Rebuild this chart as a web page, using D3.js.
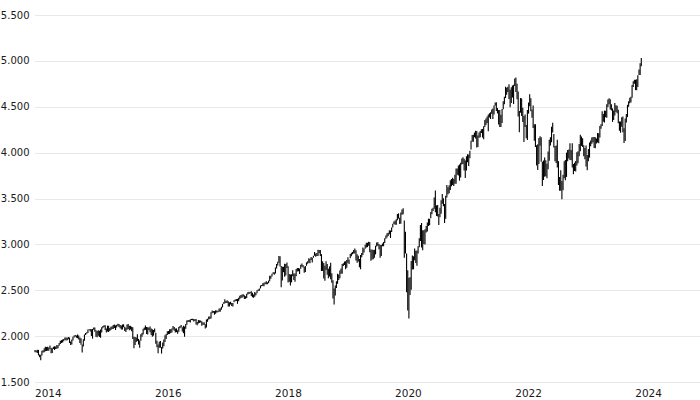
<!DOCTYPE html>
<html><head><meta charset="utf-8">
<script src="https://cdn.jsdelivr.net/npm/d3@7/dist/d3.min.js"></script>
<style>html,body{margin:0;padding:0;background:#fff;}svg{display:block;}</style>
</head><body>
<svg id="chart" width="700" height="400"></svg>
<script>
// Weekly low / high values (week ending Friday), first week ends 2014-01-03
const firstWeek = "2014-01-03";
const low2014 = [1823,1823,1815,1790,1770,1738,1790,1822,1825,1834,1839,1840,1840,1860,1814,1815,1859,1850,1859,1862,1868,1896,1915,1925,1931,1944,1957,1952,1955,1965,1925,1904,1909,1953,1986,1995,1983,1978,1962,1926,1906,1821,1887,1950,2011,2027,2034,2064,2050,2002,1973,2069];
const high2014 = [1850,1844,1851,1850,1800,1798,1840,1847,1867,1883,1882,1883,1875,1897,1873,1869,1885,1891,1888,1902,1901,1925,1950,1956,1964,1968,1986,1985,1983,1991,1985,1942,1964,1994,2006,2011,2008,2019,2007,1985,1977,1910,1966,2018,2034,2041,2071,2075,2079,2076,2078,2094];
const low2015 = [2047,1993,1988,2004,1990,1981,2040,2085,2100,2067,2039,2050,2046,2057,2067,2077,2079,2088,2067,2093,2114,2100,2085,2073,2072,2097,2056,2044,2069,2077,2063,2072,2052,1970,1867,1903,1937,1946,1908,1872,1950,1993,2017,2064,2069,2022,2019,2067,2042,2012,1993,2005];
const high2015 = [2093,2064,2056,2064,2058,2072,2097,2110,2119,2118,2083,2114,2114,2089,2103,2108,2120,2126,2117,2123,2134,2132,2121,2115,2126,2129,2103,2092,2128,2132,2114,2112,2102,2096,1994,1990,1986,2021,1970,1952,2020,2034,2080,2094,2116,2100,2097,2095,2104,2082,2076,2067];
const low2016 = [2043,1918,1878,1812,1872,1872,1810,1865,1891,1937,1969,2012,2022,2022,2033,2039,2073,2059,2039,2043,2025,2048,2085,2093,2050,2030,1992,2080,2125,2153,2155,2148,2175,2174,2160,2165,2127,2119,2138,2145,2149,2114,2124,2120,2084,2094,2156,2180,2187,2191,2248,2254,2233];
const high2016 = [2082,2038,1950,1910,1940,1947,1881,1930,1962,2009,2023,2052,2056,2075,2075,2084,2111,2099,2084,2084,2065,2100,2110,2120,2096,2113,2105,2132,2169,2176,2177,2183,2188,2189,2187,2184,2187,2153,2175,2172,2169,2162,2148,2152,2130,2182,2189,2214,2214,2260,2278,2273,2273];
const low2017 = [2245,2258,2259,2266,2267,2288,2313,2352,2356,2360,2361,2322,2322,2344,2327,2323,2370,2379,2384,2352,2380,2403,2415,2419,2428,2405,2407,2416,2455,2459,2466,2437,2425,2417,2428,2446,2467,2493,2495,2520,2543,2547,2544,2566,2566,2565,2577,2598,2624,2651,2676,2668];
const high2017 = [2282,2279,2276,2301,2300,2319,2352,2370,2401,2384,2390,2379,2370,2375,2362,2362,2392,2400,2404,2406,2418,2440,2447,2453,2456,2445,2435,2463,2477,2484,2480,2490,2474,2454,2480,2474,2501,2509,2520,2552,2557,2576,2582,2588,2597,2588,2605,2658,2658,2680,2695,2695];
const low2018 = [2683,2737,2769,2800,2760,2533,2607,2697,2647,2660,2742,2585,2594,2553,2586,2652,2612,2594,2652,2703,2707,2676,2734,2755,2749,2691,2698,2767,2789,2799,2795,2829,2802,2853,2876,2864,2872,2874,2903,2874,2710,2710,2628,2603,2722,2670,2631,2649,2621,2583,2409,2346];
const high2018 = [2748,2787,2811,2873,2871,2763,2755,2756,2790,2787,2802,2761,2676,2672,2674,2718,2683,2682,2732,2742,2742,2736,2779,2791,2774,2757,2764,2804,2816,2848,2842,2863,2855,2877,2916,2900,2906,2941,2940,2939,2894,2817,2797,2766,2816,2785,2735,2760,2800,2685,2609,2520];
const low2019 = [2443,2524,2570,2612,2631,2681,2680,2765,2775,2728,2744,2800,2785,2848,2870,2892,2900,2900,2825,2800,2812,2750,2728,2860,2883,2911,2952,2966,2970,2985,2914,2822,2836,2839,2853,2891,2976,2985,2946,2855,2874,2979,2980,3014,3061,3076,3092,3110,3070,3136,3183,3221];
const high2019 = [2553,2598,2681,2672,2716,2738,2785,2795,2813,2816,2830,2860,2836,2894,2910,2918,2940,2955,2937,2892,2876,2840,2885,2905,2965,2955,2995,3018,3018,3028,3027,2943,2943,2939,2941,2985,3021,3022,3003,2993,2993,3009,3027,3067,3098,3121,3128,3155,3151,3183,3226,3248];
const low2020 = [3213,3214,3262,3281,3221,3224,3324,3328,2855,2900,2478,2280,2191,2447,2506,2725,2728,2826,2798,2766,2900,2969,3038,2965,2936,3003,3000,3129,3141,3200,3209,3284,3328,3364,3387,3350,3310,3305,3210,3297,3335,3444,3415,3233,3280,3511,3545,3557,3594,3633,3647,3636];
const high2020 = [3259,3275,3330,3338,3289,3347,3381,3394,3260,3137,2900,2718,2637,2641,2819,2880,2870,2954,2930,2934,2980,3068,3211,3232,3155,3155,3166,3200,3238,3280,3280,3352,3387,3399,3510,3588,3425,3428,3330,3398,3482,3550,3502,3440,3529,3646,3623,3645,3700,3712,3726,3712];
const low2021 = [3660,3662,3760,3750,3694,3730,3870,3875,3805,3723,3805,3895,3853,3939,4035,4118,4118,4168,4155,4057,4061,4163,4167,4214,4165,4145,4279,4300,4323,4234,4383,4366,4423,4367,4415,4510,4454,4427,4306,4278,4279,4322,4473,4527,4595,4630,4660,4585,4495,4540,4600,4531,4725];
const high2021 = [3760,3826,3826,3861,3871,3890,3937,3950,3932,3915,3960,3983,3979,4021,4130,4192,4195,4219,4238,4236,4188,4219,4235,4255,4258,4287,4356,4372,4393,4415,4430,4440,4470,4480,4513,4546,4548,4486,4465,4465,4413,4475,4560,4610,4718,4708,4717,4744,4685,4713,4732,4740,4808];
const low2022 = [4662,4582,4395,4222,4435,4398,4335,4115,4279,4157,4138,4425,4506,4450,4381,4268,4129,4062,3859,3810,3875,4074,3900,3636,3702,3738,3743,3721,3818,3911,4079,4112,4218,4057,3906,3886,3837,3647,3585,3585,3491,3590,3720,3700,3735,3906,3936,3920,3918,3839,3765,3800];
const high2022 = [4819,4750,4667,4453,4595,4590,4490,4400,4416,4300,4465,4546,4637,4593,4471,4513,4308,4308,4081,4091,4159,4178,4168,3900,3914,3946,3918,3880,4013,4140,4167,4281,4325,4204,4073,4077,4140,3907,3734,3807,3690,3760,3905,3920,4000,4028,4034,4101,4028,4101,3875,3890];
const low2023 = [3795,3859,3885,3960,4015,4073,4060,3960,3928,3850,3808,3905,3946,4069,4097,4114,4050,4048,4099,4110,4103,4166,4260,4290,4336,4328,4385,4380,4497,4526,4470,4460,4335,4356,4405,4442,4430,4320,4238,4216,4283,4223,4104,4128,4329,4387,4501,4537,4546,4599,4716,4751];
const high2023 = [3909,4004,4015,4095,4195,4176,4156,4080,4050,4078,3975,4040,4110,4133,4164,4170,4170,4167,4154,4213,4212,4290,4310,4450,4420,4458,4456,4528,4578,4594,4583,4528,4482,4460,4541,4516,4511,4466,4338,4340,4386,4393,4266,4373,4421,4521,4560,4598,4610,4738,4779,4793];
const low2024 = [4682,4681,4714,4845,4845,4942];
const high2024 = [4794,4799,4842,4907,4975,5030];

const yTicks = [1500,2000,2500,3000,3500,4000,4500,5000,5500];
const xTickYears = [2014,2016,2018,2020,2022,2024];

const lows = [].concat(low2014,low2015,low2016,low2017,low2018,low2019,low2020,low2021,low2022,low2023,low2024);
const highs = [].concat(high2014,high2015,high2016,high2017,high2018,high2019,high2020,high2021,high2022,high2023,high2024);
const start = d3.timeParse("%Y-%m-%d")(firstWeek);
const data = lows.map((l,i)=>({date:d3.timeDay.offset(start, 7*i-2), low:l, high:highs[i]}));

const svg = d3.select("#chart");
const x = d3.scaleTime().domain([new Date(2014,0,1), new Date(2025,0,11)]).range([35,697]);
const y = d3.scaleLinear().domain([1500,5500]).range([382,15]);
const fmt = d3.formatLocale({decimal:",",thousands:".",grouping:[3],currency:["","€"]}).format(",");

// gridlines
svg.append("g").selectAll("line").data(yTicks).join("line")
  .attr("x1",35).attr("x2",700)
  .attr("y1",d=>Math.round(y(d))+0.5).attr("y2",d=>Math.round(y(d))+0.5)
  .attr("stroke","#e8e8e8").attr("stroke-width",1);

// y labels
svg.append("g").selectAll("text").data(yTicks).join("text")
  .attr("x",29.5).attr("y",d=>y(d)).attr("dy","0.35em")
  .attr("text-anchor","end")
  .attr("font-family","DejaVu Sans").attr("font-size","10px").attr("fill","#1a1a1a")
  .text(d=>fmt(d));

// x labels
svg.append("g").selectAll("text").data(xTickYears).join("text")
  .attr("x",d=>x(new Date(d,0,1))).attr("y",397)
  .attr("text-anchor","start")
  .attr("font-family","DejaVu Sans").attr("font-size","10.5px").attr("fill","#1a1a1a")
  .text(d=>d);

// price bars
svg.append("g").selectAll("line").data(data).join("line")
  .attr("x1",d=>x(d.date)).attr("x2",d=>x(d.date))
  .attr("y1",d=>y(d.low)).attr("y2",d=>y(d.high))
  .attr("stroke","#000").attr("stroke-width",1.1);
</script>
</body></html>
